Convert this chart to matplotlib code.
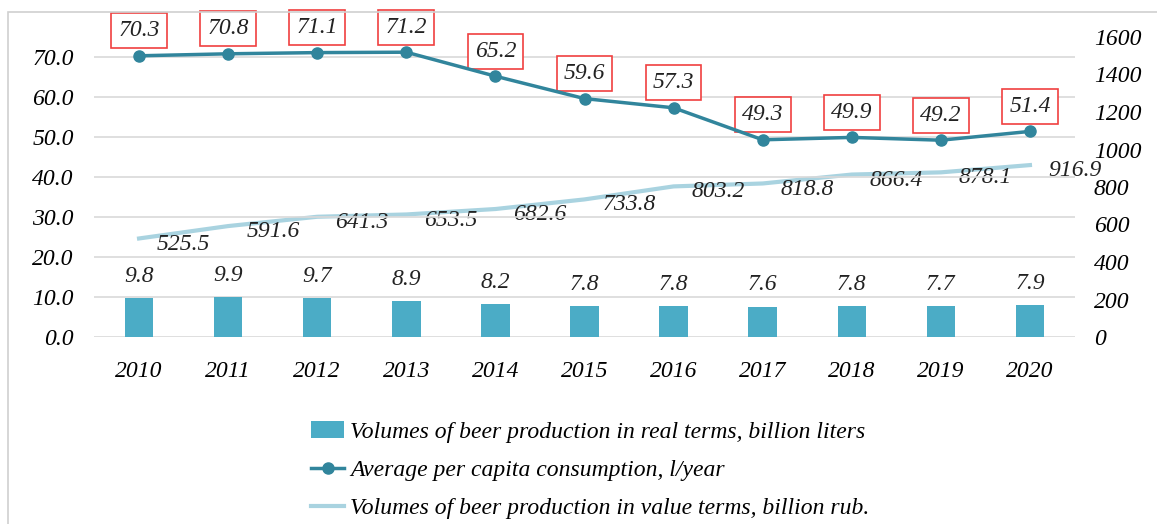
import numpy as np
import matplotlib.pyplot as plt
from matplotlib.patches import Rectangle

# chart data
years = ['2010', '2011', '2012', '2013', '2014', '2015', '2016', '2017', '2018', '2019', '2020']
real_volume = [9.8, 9.9, 9.7, 8.9, 8.2, 7.8, 7.8, 7.6, 7.8, 7.7, 7.9]
per_capita = [70.3, 70.8, 71.1, 71.2, 65.2, 59.6, 57.3, 49.3, 49.9, 49.2, 51.4]
value_volume = [525.5, 591.6, 641.3, 653.5, 682.6, 733.8, 803.2, 818.8, 866.4, 878.1, 916.9]

left_ticks = [0, 10, 20, 30, 40, 50, 60, 70]
right_ticks = [0, 200, 400, 600, 800, 1000, 1200, 1400, 1600]

bar_color = '#4BACC6'
line_color = '#31859C'
value_color = '#A9D3E0'
grid_color = '#D9D9D9'

plt.rcParams['font.family'] = ['Liberation Serif', 'DejaVu Serif']
plt.rcParams['font.style'] = 'italic'
fs = 17

fig = plt.figure(figsize=(11.57, 5.24), dpi=100)
ax = fig.add_axes([94.5 / 1157, 1 - 337 / 524, 980 / 1157, 300 / 524])
ax2 = ax.twinx()

x = np.arange(len(years))

# outer frame of the source chart
fig.patches.append(Rectangle((8 / 1157, -0.1), 1.2, 1 - 12 / 524 + 0.1,
                             transform=fig.transFigure, fill=False,
                             edgecolor='#D0D0D0', linewidth=1.2))

bars = ax.bar(x, real_volume, width=0.32, color=bar_color, zorder=2,
              label='Volumes of beer production in real terms, billion liters')
ln1, = ax.plot(x, per_capita, color=line_color, linewidth=2.5, marker='o',
               markersize=8, zorder=4, label='Average per capita consumption, l/year')
ln2, = ax2.plot(x, value_volume, color=value_color, linewidth=3, zorder=3,
                label='Volumes of beer production in value terms, billion rub.')

ax.set_xlim(-0.5, len(years) - 0.5)
ax.set_ylim(0, 75)
ax2.set_ylim(0, 1600)
ax.set_yticks(left_ticks)
ax.set_yticklabels([f'{t:.1f}' for t in left_ticks], fontsize=fs)
ax2.set_yticks(right_ticks)
ax2.set_yticklabels([str(t) for t in right_ticks], fontsize=fs)
ax.set_xticks(x)
ax.set_xticklabels(years, fontsize=fs)

ax.grid(axis='y', color=grid_color, linewidth=1.2, zorder=0)
ax.set_axisbelow(True)
for a in (ax, ax2):
    for s in a.spines.values():
        s.set_visible(False)
    a.tick_params(length=0)
ax.tick_params(axis='y', pad=15)
ax.tick_params(axis='x', pad=17)
ax2.tick_params(axis='y', pad=14)

ax.set_zorder(ax2.get_zorder() + 1)
ax.patch.set_visible(False)

# labels
for xi, v in zip(x, real_volume):
    ax.annotate(f'{v:.1f}', (xi, v), xytext=(0, 8), textcoords='offset points',
                ha='center', va='bottom', fontsize=fs, color='#222222')
for xi, v in zip(x, per_capita):
    ax.annotate(f'{v:.1f}', (xi, v), xytext=(0, 18), textcoords='offset points',
                ha='center', va='center', fontsize=fs, color='#222222',
                bbox=dict(boxstyle='square,pad=0.3', facecolor='white',
                          edgecolor='#F04040', linewidth=1.2))
for xi, v in zip(x, value_volume):
    ax2.annotate(f'{v:.1f}', (xi, v), xytext=(13, -4), textcoords='offset points',
                 ha='left', va='center', fontsize=fs, color='#222222')

fig.legend(handles=[bars, ln1, ln2], loc='upper left',
           bbox_to_anchor=(290 / 1157, 1 - 400 / 524), frameon=False,
           fontsize=17, handlelength=1.4, handletextpad=0.25, labelspacing=0.7)

fig.savefig('out.png', dpi=100)
